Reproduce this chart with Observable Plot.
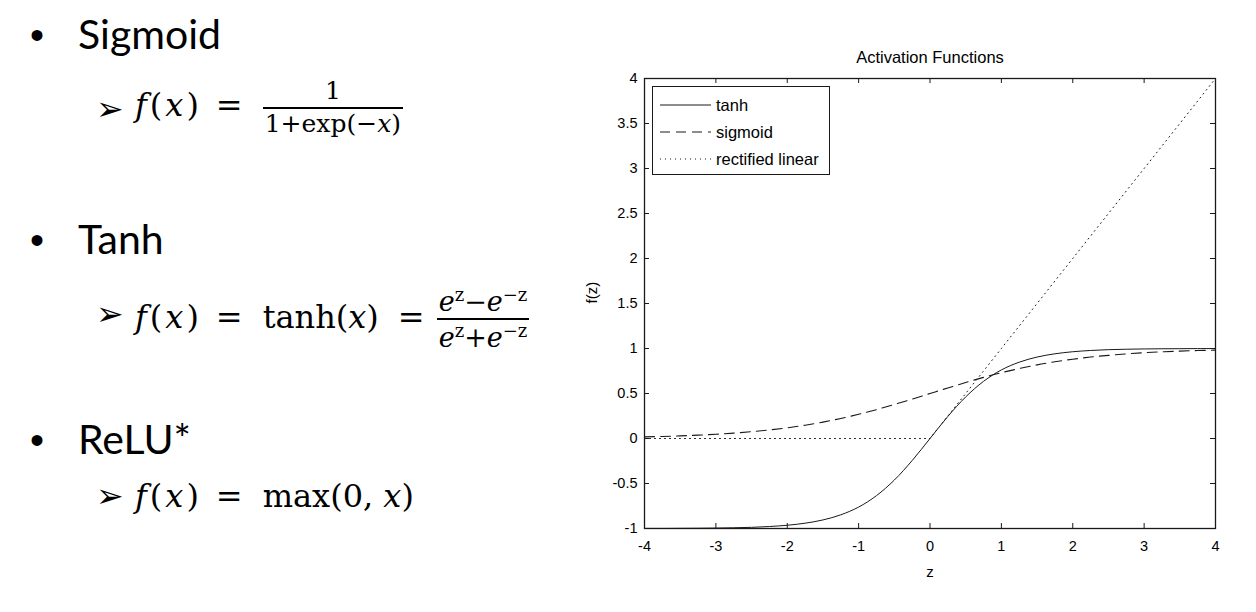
<!DOCTYPE html>
<html><head><meta charset="utf-8">
<script src="https://cdn.jsdelivr.net/npm/d3@7"></script>
<script src="https://cdn.jsdelivr.net/npm/@observablehq/plot@0.6"></script>
<style>
html,body{margin:0;padding:0;background:#fff;width:1256px;height:612px;overflow:hidden;position:relative}
.t{position:absolute;white-space:nowrap;color:#000;line-height:1}
.head{font-family:Lato,"Open Sans",sans-serif;font-size:41px}
.bul{font-family:"Liberation Sans",Arial,sans-serif;font-size:40px}
.arrow{font-family:"DejaVu Sans",sans-serif;font-size:33px}
.math{font-family:"DejaVu Serif","Liberation Serif",serif;font-size:32px}
.math i{font-style:italic}
.fx{letter-spacing:3px}
.eq1{margin:0 20px 0 14px}
.eq2{margin:0 12px 0 19px}
.frac{display:inline-flex;flex-direction:column;vertical-align:middle;text-align:center;font-size:25px;line-height:1.15}
.frac>span:first-child{border-bottom:2px solid #000;padding:0 2px 1px}
.frac>span:last-child{padding:1px 2px 0}
.frac sup{font-size:17px}
.frac.big{font-size:27px}
.frac.big sup{font-size:18px}
#chart{position:absolute;left:580px;top:40px}
#legend{position:absolute;left:652px;top:86px}
</style>
</head><body>
<div class="t bul" style="left:30px;top:15px">•</div>
<div class="t head" style="left:78px;top:13px">Sigmoid</div>
<div class="t arrow" style="left:96px;top:92px">➢</div>
<div class="t math" style="left:135px;top:77px"><span class="fx"><i>f</i>(<i>x</i>)</span><span class="eq1">=</span><span class="frac"><span>1</span><span>1+exp(−<i>x</i>)</span></span></div>

<div class="t bul" style="left:30px;top:220px">•</div>
<div class="t head" style="left:78px;top:218px">Tanh</div>
<div class="t arrow" style="left:96px;top:297px">➢</div>
<div class="t math" style="left:135px;top:285px"><span class="fx"><i>f</i>(<i>x</i>)</span><span class="eq1">=</span>tanh(<i>x</i>)<span class="eq2">=</span><span class="frac big"><span><i>e</i><sup>z</sup>−<i>e</i><sup>−z</sup></span><span><i>e</i><sup>z</sup>+<i>e</i><sup>−z</sup></span></span></div>

<div class="t bul" style="left:30px;top:420px">•</div>
<div class="t head" style="left:78px;top:418px">ReLU*</div>
<div class="t arrow" style="left:96px;top:479px">➢</div>
<div class="t math" style="left:135px;top:480px"><span class="fx"><i>f</i>(<i>x</i>)</span><span class="eq1">=</span>max(0, <i>x</i>)</div>

<div id="chart"></div>
<div id="legend"></div>
<script>
// ---- data ----
const zValues = [-4,-3.75,-3.5,-3.25,-3,-2.75,-2.5,-2.25,-2,-1.75,-1.5,-1.25,-1,-0.75,-0.5,-0.25,0,0.25,0.5,0.75,1,1.25,1.5,1.75,2,2.25,2.5,2.75,3,3.25,3.5,3.75,4];
const tanhValues = [-0.999,-0.999,-0.998,-0.997,-0.995,-0.992,-0.987,-0.978,-0.964,-0.941,-0.905,-0.848,-0.762,-0.635,-0.462,-0.245,0,0.245,0.462,0.635,0.762,0.848,0.905,0.941,0.964,0.978,0.987,0.992,0.995,0.997,0.998,0.999,0.999];
const sigmoidValues = [0.018,0.023,0.029,0.037,0.047,0.060,0.076,0.095,0.119,0.148,0.182,0.223,0.269,0.321,0.378,0.438,0.5,0.562,0.622,0.679,0.731,0.777,0.818,0.852,0.881,0.905,0.924,0.940,0.953,0.963,0.971,0.977,0.982];
const reluValues = [0,0,0,0,0,0,0,0,0,0,0,0,0,0,0,0,0,0.25,0.5,0.75,1,1.25,1.5,1.75,2,2.25,2.5,2.75,3,3.25,3.5,3.75,4];
const seriesNames = ["tanh","sigmoid","rectified linear"];
const xTicks = [-4,-3,-2,-1,0,1,2,3,4];
const yTicks = [-1,-0.5,0,0.5,1,1.5,2,2.5,3,3.5,4];
const chartTitle = "Activation Functions";
const xLabel = "z";
const yLabel = "f(z)";

const rows = zValues.map((z,i)=>({z, tanh: tanhValues[i], sigmoid: sigmoidValues[i], relu: reluValues[i]}));

const W=660, H=560, mL=64, mR=25, mT=38, mB=72;
const pw = W-mL-mR, ph = H-mT-mB, tk = 5;
const ink = "#1a1a1a";
const dashes = [null, "10,6", "1,4"];
const font = "'Liberation Sans', Arial, sans-serif";

const chart = Plot.plot({
  width:W, height:H, marginLeft:mL, marginRight:mR, marginTop:mT, marginBottom:mB,
  x:{domain:[-4,4]}, y:{domain:[-1,4]},
  style:{fontFamily:font, fontSize:"14px", color:"#000", background:"#fff", overflow:"visible"},
  marks:[
    Plot.line(rows,{x:"z", y:"relu", stroke:ink, strokeWidth:1, strokeDasharray:dashes[2]}),
    Plot.line(rows,{x:"z", y:"sigmoid", stroke:ink, strokeWidth:1.1, strokeDasharray:dashes[1], curve:"catmull-rom"}),
    Plot.line(rows,{x:"z", y:"tanh", stroke:ink, strokeWidth:1, curve:"catmull-rom"}),
    Plot.tickY(yTicks,{insetRight:pw-tk, stroke:ink}),
    Plot.tickY(yTicks,{insetLeft:pw-tk, stroke:ink}),
    Plot.tickX(xTicks,{insetTop:ph-tk, stroke:ink}),
    Plot.tickX(xTicks,{insetBottom:ph-tk, stroke:ink}),
    Plot.frame({stroke:ink, strokeWidth:1.3}),
    Plot.axisX({ticks:xTicks, tickSize:0, tickPadding:12, tickFormat:d=>String(d), label:null, fontSize:14.5}),
    Plot.axisY({ticks:yTicks, tickSize:0, tickPadding:7, tickFormat:d=>String(d), label:null, fontSize:14.5}),
    Plot.text([chartTitle],{frameAnchor:"top", lineAnchor:"middle", dy:-21, text:d=>d, fontSize:16.5}),
    Plot.text([xLabel],{frameAnchor:"bottom", lineAnchor:"middle", dy:44, text:d=>d, fontSize:15}),
    Plot.text([yLabel],{frameAnchor:"left", dx:-52, rotate:-90, text:d=>d, fontSize:15})
  ]
});
document.getElementById("chart").append(chart);

// legend
const ns="http://www.w3.org/2000/svg";
const lg=document.createElementNS(ns,"svg");
lg.setAttribute("width",178); lg.setAttribute("height",89);
const rect=document.createElementNS(ns,"rect");
rect.setAttribute("x",0.5); rect.setAttribute("y",0.5); rect.setAttribute("width",177); rect.setAttribute("height",88);
rect.setAttribute("fill","#fff"); rect.setAttribute("stroke",ink);
lg.append(rect);
seriesNames.forEach((name,i)=>{
  const y = 19 + i*27;
  const l=document.createElementNS(ns,"line");
  l.setAttribute("x1",8); l.setAttribute("x2",59); l.setAttribute("y1",y); l.setAttribute("y2",y);
  l.setAttribute("stroke",ink); l.setAttribute("stroke-width",1);
  if(dashes[i]) l.setAttribute("stroke-dasharray",dashes[i]);
  lg.append(l);
  const t=document.createElementNS(ns,"text");
  t.setAttribute("x",64); t.setAttribute("y",y); t.setAttribute("dy","0.35em");
  t.setAttribute("font-family",font); t.setAttribute("font-size",16.5);
  t.textContent=name; lg.append(t);
});
document.getElementById("legend").append(lg);
</script>
</body></html>
